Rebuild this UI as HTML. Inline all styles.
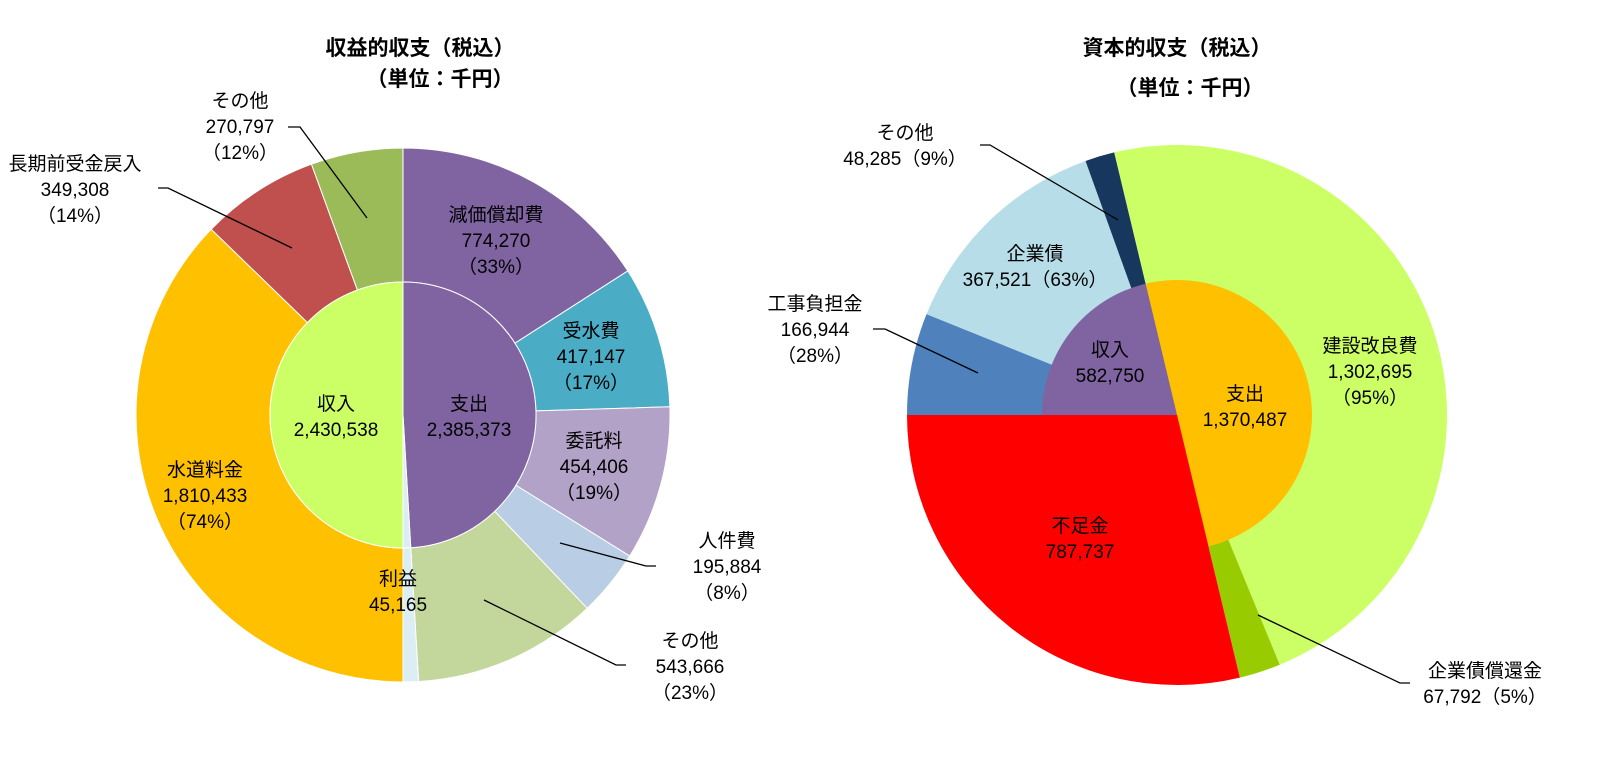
<!DOCTYPE html>
<html><head><meta charset="utf-8">
<style>
html,body{margin:0;padding:0;background:#fff;}
svg{display:block;}
text{font-family:"Liberation Sans","Noto Sans CJK JP",sans-serif;font-size:19px;fill:#000;text-anchor:middle;}
.t{font-size:21px;font-weight:bold;}
</style></head>
<body>
<svg id="c" width="1616" height="784" viewBox="0 0 1616 784">
<g id="left"></g>
<g id="right"></g>
<g id="labels"></g>
</svg>
<script>
// Left chart data
const leftOuterNames = ["減価償却費","受水費","委託料","人件費","その他","利益","水道料金","長期前受金戻入","その他"];
const leftOuterValues = [774270,417147,454406,195884,543666,45165,1810433,349308,270797];
const leftOuterColors = ["#8064A2","#4BACC6","#B2A2C7","#B9CDE5","#C3D69B","#DAEEF3","#FFC000","#C0504D","#9BBB59"];
const leftInnerNames = ["支出","利益","収入"];
const leftInnerValues = [2385373,45165,2430538];
const leftInnerColors = ["#8064A2","#DAEEF3","#CCFF66"];
// Right chart data
const rightOuterNames = ["建設改良費","企業債償還金","不足金","工事負担金","企業債","その他"];
const rightOuterValues = [1302695,67792,787737,166944,367521,48285];
const rightOuterColors = ["#CCFF66","#99CC00","#FF0000","#4F81BD","#B7DEE8","#17375E"];
const rightInnerNames = ["支出","不足金","収入"];
const rightInnerValues = [1370487,787737,582750];
const rightInnerColors = ["#FFC000","#FF0000","#8064A2"];

const NS="http://www.w3.org/2000/svg";
function pt(cx,cy,r,a){const t=a*Math.PI/180;return [cx+r*Math.sin(t),cy-r*Math.cos(t)];}
function ring(g,cx,cy,r0,r1,start,names,vals,cols,stroke,prefix){
  const total=vals.reduce((a,b)=>a+b,0);
  let a=start;
  vals.forEach((v,i)=>{
    const sw=v/total*360, b=a+sw;
    const large=sw>180?1:0;
    const p1=pt(cx,cy,r1,a),p2=pt(cx,cy,r1,b);
    let d;
    if(r0>0){const q1=pt(cx,cy,r0,b),q2=pt(cx,cy,r0,a);
      d=`M${p1[0]},${p1[1]}A${r1},${r1} 0 ${large} 1 ${p2[0]},${p2[1]}L${q1[0]},${q1[1]}A${r0},${r0} 0 ${large} 0 ${q2[0]},${q2[1]}Z`;}
    else d=`M${cx},${cy}L${p1[0]},${p1[1]}A${r1},${r1} 0 ${large} 1 ${p2[0]},${p2[1]}Z`;
    const p=document.createElementNS(NS,"path");
    p.setAttribute("d",d);p.setAttribute("fill",cols[i]);
    if(stroke){p.setAttribute("stroke","#fff");p.setAttribute("stroke-width","1");}
    
    
    g.appendChild(p);
    a=b;
  });
}
const L=document.getElementById("left"),R=document.getElementById("right");
ring(L,403,415,133,267,0,leftOuterNames,leftOuterValues,leftOuterColors,true,"left-outer-slice");
ring(L,403,415,0,133,0,leftInnerNames,leftInnerValues,leftInnerColors,true,"left-inner-slice");
const rTot=rightOuterValues.reduce((a,b)=>a+b,0);
// start so that 不足金 ends at 9 o'clock (270deg)
const startR=270-(rightOuterValues[0]+rightOuterValues[1]+rightOuterValues[2])/rTot*360;
ring(R,1177,415,0,270,startR,rightOuterNames,rightOuterValues,rightOuterColors,false,"right-outer-slice");
ring(R,1177,415,0,135,startR,rightInnerNames,rightInnerValues,rightInnerColors,false,"right-inner-slice");

const G=document.getElementById("labels");
function fmt(n){return n.toLocaleString("en-US");}
function txt(x,y,s,cls,name){const t=document.createElementNS(NS,"text");t.setAttribute("x",x);t.setAttribute("y",y);t.textContent=s;if(cls)t.setAttribute("class",cls);
  
  
  G.appendChild(t);}
function line(pts,name){const p=document.createElementNS(NS,"polyline");p.setAttribute("points",pts);p.setAttribute("fill","none");p.setAttribute("stroke","#000");p.setAttribute("stroke-width","1.3");
  
  
  G.appendChild(p);}
function lab(x,y,lines,name){lines.forEach((s,i)=>txt(x,y+i*26,s,null,name+"-line"+i));}

txt(420,55,"収益的収支（税込）","t","left-title");
txt(440,86,"（単位：千円）","t","left-unit");
txt(1177,55,"資本的収支（税込）","t","right-title");
txt(1190,95,"（単位：千円）","t","right-unit");

lab(240,107,["その他",fmt(leftOuterValues[8]),"（12%）"],"label-other-revenue");
line("288,127 300,127 367,218","leader-other-revenue");
lab(75,170,["長期前受金戻入",fmt(leftOuterValues[7]),"（14%）"],"label-long-term");
line("158,188 168,188 292,248","leader-long-term");
lab(496,221,["減価償却費",fmt(leftOuterValues[0]),"（33%）"],"label-depreciation");
lab(591,337,["受水費",fmt(leftOuterValues[1]),"（17%）"],"label-water-purchase");
lab(594,447,["委託料",fmt(leftOuterValues[2]),"（19%）"],"label-consignment");
lab(727,547,["人件費",fmt(leftOuterValues[3]),"（8%）"],"label-personnel");
line("656,566 646,566 560,543","leader-personnel");
lab(690,647,["その他",fmt(leftOuterValues[4]),"（23%）"],"label-other-expense");
line("626,665 616,665 484,600","leader-other-expense");
lab(398,585,["利益",fmt(leftOuterValues[5])],"label-profit");
lab(205,476,["水道料金",fmt(leftOuterValues[6]),"（74%）"],"label-water-charges");
lab(336,410,["収入",fmt(leftInnerValues[2])],"label-revenue-total");
lab(469,410,["支出",fmt(leftInnerValues[0])],"label-expense-total");

lab(905,139,["その他",fmt(rightOuterValues[5])+"（9%）"],"label-right-other");
line("980,145 990,145 1118,220","leader-right-other");
lab(1035,260,["企業債",fmt(rightOuterValues[4])+"（63%）"],"label-bonds");
lab(815,310,["工事負担金",fmt(rightOuterValues[3]),"（28%）"],"label-construction-share");
line("873,329 885,329 978,373","leader-construction-share");
lab(1110,356,["収入",fmt(rightInnerValues[2])],"label-right-revenue");
lab(1245,400,["支出",fmt(rightInnerValues[0])],"label-right-expense");
lab(1370,352,["建設改良費",fmt(rightOuterValues[0]),"（95%）"],"label-construction");
lab(1080,532,["不足金",fmt(rightOuterValues[2])],"label-shortfall");
lab(1485,677,["企業債償還金",fmt(rightOuterValues[1])+"（5%）"],"label-bond-repayment");
line("1258,615 1400,683 1410,683","leader-bond-repayment");
</script>
</body></html>
